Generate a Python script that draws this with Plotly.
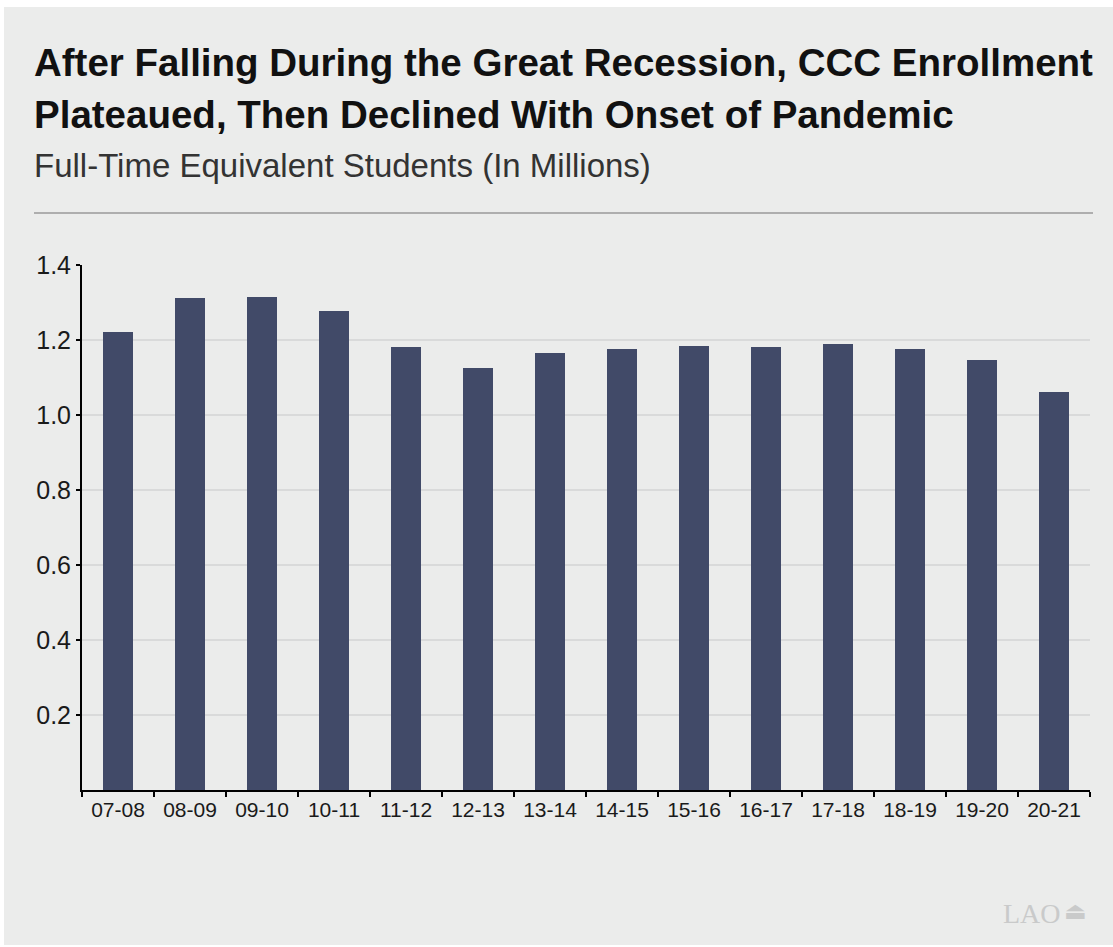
import plotly.graph_objects as go

years = ["07-08", "08-09", "09-10", "10-11", "11-12", "12-13", "13-14",
         "14-15", "15-16", "16-17", "17-18", "18-19", "19-20", "20-21"]
fte_millions = [1.221, 1.312, 1.315, 1.277, 1.181, 1.125, 1.165,
                1.176, 1.184, 1.181, 1.189, 1.176, 1.148, 1.061]
y_ticks = [0.2, 0.4, 0.6, 0.8, 1.0, 1.2, 1.4]
y_tick_labels = ["0.2", "0.4", "0.6", "0.8", "1.0", "1.2", "1.4"]

W, H = 1113, 947
L, R, T, B = 82, 23, 265, 157
pw, ph = W - L - R, H - T - B


def px(x):
    return (x - L) / pw


def py(y):
    return (H - B - y) / ph


BG = "#ebeceb"
FONT = "Liberation Sans, Arial, sans-serif"

fig = go.Figure()
fig.add_trace(go.Bar(
    x=years, y=fte_millions, width=0.41,
    marker=dict(color="#414a68", line=dict(width=0)),
    hoverinfo="x+y",
))

fig.update_layout(
    width=W, height=H,
    margin=dict(l=L, r=R, t=T, b=B),
    paper_bgcolor=BG, plot_bgcolor=BG,
    showlegend=False,
    font=dict(family=FONT, color="#222222"),
    bargap=0.0,
    xaxis=dict(
        type="category", range=[-0.5, 13.5],
        showgrid=False, showline=True, linecolor="#000000", linewidth=2,
        ticks="outside", tickson="boundaries", ticklen=5, tickwidth=2,
        tickcolor="#000000",
        tickfont=dict(size=21, color="#1a1a1a", family=FONT),
        zeroline=False, fixedrange=True,
    ),
    yaxis=dict(
        range=[0, 1.4], tickvals=y_ticks, ticktext=y_tick_labels,
        showgrid=True, gridcolor="#d9dada", gridwidth=1.5,
        showline=True, linecolor="#000000", linewidth=2,
        ticks="outside", ticklen=4, tickwidth=2, tickcolor="#000000",
        tickfont=dict(size=25, color="#1a1a1a", family=FONT),
        zeroline=False, fixedrange=True,
    ),
    shapes=[
        # white outer strips
        dict(type="rect", xref="paper", yref="paper",
             x0=px(0), x1=px(W), y0=py(0), y1=py(7),
             fillcolor="white", line=dict(width=0), layer="below"),
        dict(type="rect", xref="paper", yref="paper",
             x0=px(0), x1=px(4), y0=py(0), y1=py(H),
             fillcolor="white", line=dict(width=0), layer="below"),
        dict(type="rect", xref="paper", yref="paper",
             x0=px(0), x1=px(W), y0=py(945), y1=py(H),
             fillcolor="white", line=dict(width=0), layer="below"),
        # rule under the subtitle
        dict(type="line", xref="paper", yref="paper",
             x0=px(34), x1=px(1093), y0=py(213), y1=py(213),
             line=dict(color="#9a9a9a", width=1.5)),
    ],
    annotations=[
        dict(text="<b>After Falling During the Great Recession, CCC Enrollment</b>",
             xref="paper", yref="paper", x=px(32), y=py(63),
             xanchor="left", yanchor="middle", align="left", showarrow=False,
             font=dict(size=38.5, color="#111111", family=FONT)),
        dict(text="<b>Plateaued, Then Declined With Onset of Pandemic</b>",
             xref="paper", yref="paper", x=px(32), y=py(115),
             xanchor="left", yanchor="middle", align="left", showarrow=False,
             font=dict(size=38.5, color="#111111", family=FONT)),
        dict(text="Full-Time Equivalent Students (In Millions)",
             xref="paper", yref="paper", x=px(32), y=py(166),
             xanchor="left", yanchor="middle", align="left", showarrow=False,
             font=dict(size=33, color="#333333", family=FONT)),
        dict(text="LAO",
             xref="paper", yref="paper", x=px(1063), y=py(913),
             xanchor="right", yanchor="middle", showarrow=False,
             font=dict(size=28, color="#c9caca",
                       family="Liberation Serif, Times New Roman, serif")),
        dict(text="⏏",
             xref="paper", yref="paper", x=px(1062), y=py(910),
             xanchor="left", yanchor="middle", showarrow=False,
             font=dict(size=24, color="#c9caca")),
    ],
)

fig.write_html("out.html")
